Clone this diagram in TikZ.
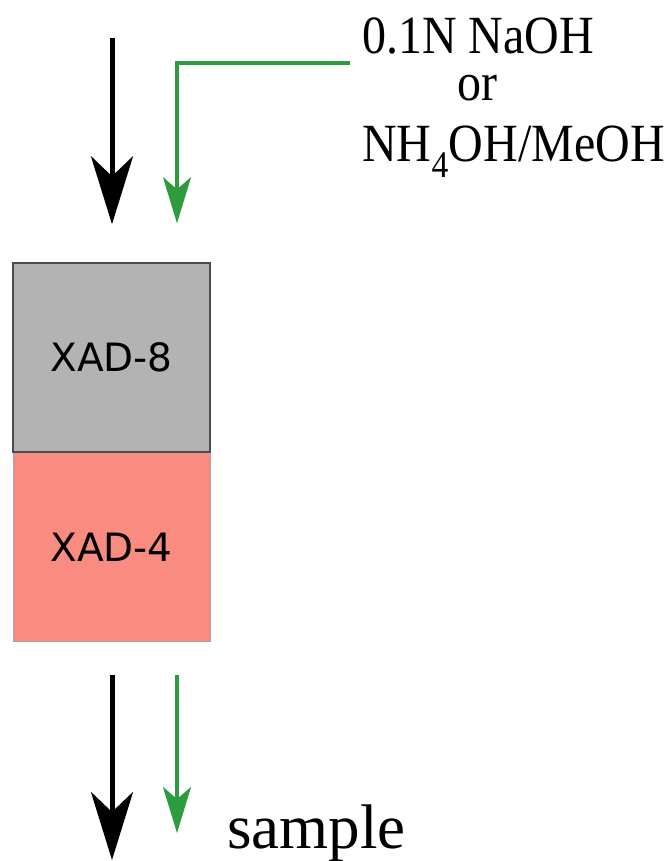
\documentclass[tikz,border=0pt]{standalone}
\usepackage{fontspec}
\usepackage{graphicx}
\setmainfont{Liberation Serif}
\newfontfamily\boxfont{DejaVu Sans}
\usetikzlibrary{arrows.meta}
\definecolor{resingray}{HTML}{B3B3B3}
\definecolor{resinred}{HTML}{F98B80}
\definecolor{elutegreen}{HTML}{2E9B3E}
\begin{document}
\begin{tikzpicture}[x=1pt,y=-1pt,
  resin/.style={minimum width=197pt,minimum height=189pt,inner sep=0pt,
    font=\boxfont\fontsize{39}{47}\selectfont},
  label/.style={inner sep=0pt,font=\fontsize{48}{58}\selectfont},
  blackflow/.style={line width=5pt,-{Stealth[length=68pt,width=42pt,inset=20pt]}},
  greenflow/.style={elutegreen,line width=3.2pt,-{Stealth[length=46pt,width=28pt,inset=12pt]}}]
  \useasboundingbox (0,0) rectangle (670,861);
  \node[resin,fill=resinred,draw=black!35,line width=1pt] (xadfour) at (111.5,547) {XAD-4};
  \node[resin,fill=resingray,draw=black!70,line width=1.5pt] (xadeight) at (111.5,357.5) {XAD-8};
  \node[label,anchor=base] (naoh) at (478,54) {\scalebox{1}[1.12]{0.1N NaOH}};
  \node[label,anchor=base] (or) at (477,101) {\scalebox{1}[1.12]{or}};
  \node[label,anchor=base west] (nhoh) at (362,162) {\scalebox{1}[1.12]{NH\textsubscript{4}OH/MeOH}};
  \node[inner sep=0pt,anchor=base west,font=\fontsize{63}{75}\selectfont] (sample) at (227,848) {sample};
  \coordinate (feed) at (112,38);
  \coordinate (elute) at (350,63);
  \coordinate (elbow) at (177,63);
  \coordinate (feedout) at (112,860);
  \coordinate (eluteout) at (177,833);
  \draw[blackflow] (feed) -- (feed |- xadeight.north) [shorten >=38pt];
  \draw[greenflow] (elute) -- (elbow) -- (elbow |- xadeight.north) [shorten >=39pt];
  \draw[blackflow,shorten <=33pt] (feedout |- xadfour.south) -- (feedout);
  \draw[greenflow,shorten <=33pt] (eluteout |- xadfour.south) -- (eluteout);
\end{tikzpicture}
\end{document}
